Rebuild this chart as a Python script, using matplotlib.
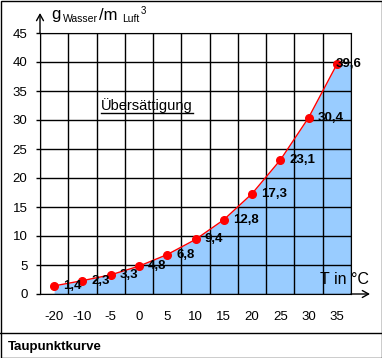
import numpy as np
import matplotlib
matplotlib.use('Agg')
import matplotlib.pyplot as plt
from matplotlib.lines import Line2D
from matplotlib.patches import Rectangle

plt.rcParams['font.family'] = ['Liberation Sans', 'DejaVu Sans']

# data
temp_labels = ['-20', '-10', '-5', '0', '5', '10', '15', '20', '25', '30', '35']
water = [1.4, 2.3, 3.3, 4.8, 6.8, 9.4, 12.8, 17.3, 23.1, 30.4, 39.6]
y_ticks = [0, 5, 10, 15, 20, 25, 30, 35, 40, 45]

W, H = 382, 358
fig = plt.figure(figsize=(W / 100, H / 100), dpi=100)
# plot area in pixels: x 40..351, y 33..294
ax = fig.add_axes([40 / W, (H - 294) / H, 311 / W, 261 / H])

x = np.arange(len(water))
n = len(water)
bounds = np.arange(-0.5, n)

# area under the curve, runs on to the right edge at the last value
xa = np.append(x, n - 0.5)
ya = np.append(water, water[-1])
ax.fill_between(xa, 0, ya, color='#99CCFF', lw=0, zorder=1)

# grid (category boundaries and y ticks)
ax.vlines(bounds, 0, 45, color='black', lw=1, zorder=1.5)
ax.hlines(y_ticks, -0.5, n - 0.5, color='black', lw=1, zorder=1.5)

ax.plot(x, water, color='red', lw=1, marker='o', ms=5.5, mfc='red', mec='red', zorder=3)

ax.set_xlim(-0.5, n - 0.5)
ax.set_ylim(0, 45)
ax.set_xticks(x)
ax.set_xticklabels(temp_labels)
ax.set_yticks(y_ticks)
ax.tick_params(axis='x', length=0, pad=12, labelsize=9.5)
ax.tick_params(axis='y', length=3, width=1, direction='out', pad=6, labelsize=9.5)

# data labels
for i, v in enumerate(water):
    dx = -1 if i == n - 1 else 6.5
    ax.annotate(str(v).replace('.', ','), (x[i], v), xytext=(dx, 0),
                textcoords='offset points', ha='left', va='center',
                fontsize=9.5, fontweight='bold', color='black', zorder=5)

# axis arrows
arr = dict(arrowstyle='->,head_length=0.45,head_width=0.25', lw=1, color='black',
           shrinkA=0, shrinkB=0)
ax.annotate('', xy=(0, 1 + 20 / 261), xytext=(0, 1), xycoords='axes fraction',
            arrowprops=arr, annotation_clip=False)
ax.annotate('', xy=(1 + 19 / 311, 0), xytext=(1, 0), xycoords='axes fraction',
            arrowprops=arr, annotation_clip=False)

def ptext(px, py, s, **kw):
    return fig.text(px / W, (H - py) / H, s, **kw)

# y axis label: g Wasser / m Luft ^3
ptext(51, 19, 'g', fontsize=12, va='baseline')
ptext(63, 22, 'Wasser', fontsize=7.5, va='baseline')
ptext(99, 20, '/m', fontsize=12, va='baseline')
ptext(122, 22, 'Luft', fontsize=7.5, va='baseline')
ptext(141, 14, '3', fontsize=7, va='baseline')

ptext(320, 284, 'T in °C', fontsize=11.5, va='baseline')

t = ptext(101, 110, 'Übersättigung', fontsize=10.5, va='baseline')
fig.canvas.draw()
bb = t.get_window_extent()
fig.add_artist(Line2D([bb.x0, bb.x1], [H - 113, H - 113],
                      transform=None, color='black', lw=1))

ptext(8, 350, 'Taupunktkurve', fontsize=9.5, fontweight='bold', va='baseline')

# frame and separator
fig.add_artist(Rectangle((0.5, 0.5), W - 1, H - 1, transform=None,
                         fill=False, ec='black', lw=1))
fig.add_artist(Line2D([0, W], [H - 333, H - 333], transform=None, color='black', lw=1))

# make sure the grid really came out; if not, put it on the figure instead
fig.canvas.draw()
buf = np.asarray(fig.canvas.buffer_rgba())
gx, gy = ax.transData.transform((bounds[1], 42))
c, r = int(round(gx)), int(round(H - gy))
if buf[r, c - 2:c + 3, :3].min() > 128:
    for b in bounds:
        fig.add_artist(Line2D([b, b], [0, 45], transform=ax.transData,
                              color='black', lw=1, zorder=0.1))
    for yt in y_ticks:
        fig.add_artist(Line2D([-0.5, n - 0.5], [yt, yt], transform=ax.transData,
                              color='black', lw=1, zorder=0.1))

fig.savefig('out.png', dpi=100)
